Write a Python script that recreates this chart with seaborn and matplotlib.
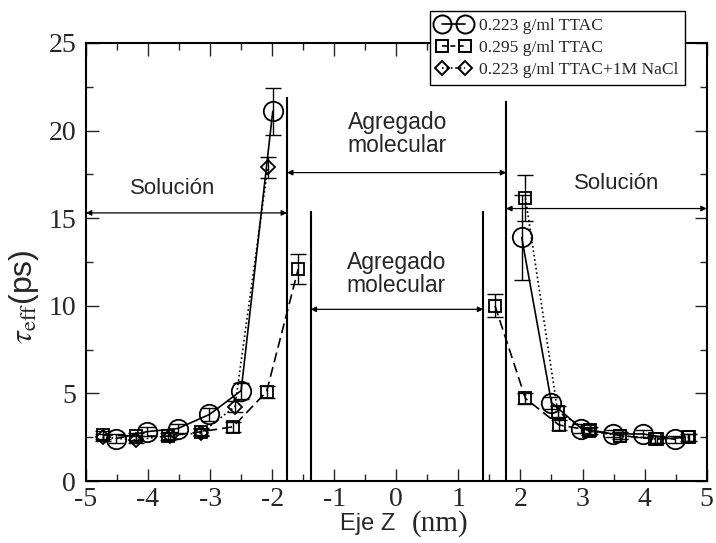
import matplotlib
matplotlib.use("Agg")
import matplotlib.pyplot as plt
import seaborn as sns
from matplotlib.lines import Line2D
from matplotlib.ticker import MultipleLocator

# 0.223 g/ml TTAC (circles, solid)
c_left_x = [-4.51, -4.02, -3.52, -3.01, -2.50, -1.99]
c_left_y = [2.43, 2.82, 3.00, 3.80, 5.16, 21.1]
c_left_err = [0.25, 0.25, 0.25, 0.35, 0.45, 1.35]
c_right_x = [2.02, 2.50, 2.98, 3.49, 3.98, 4.49]
c_right_y = [13.9, 4.47, 3.00, 2.69, 2.69, 2.38]
c_right_err = [2.45, 0.35, 0.25, 0.2, 0.2, 0.2]

# 0.295 g/ml TTAC (squares, dashed)
s_left_x = [-4.73, -4.19, -3.68, -3.14, -2.63, -2.09, -1.58]
s_left_y = [2.63, 2.57, 2.57, 2.82, 3.10, 5.10, 12.1]
s_left_err = [0.2, 0.2, 0.2, 0.2, 0.3, 0.35, 0.85]
s_right_x = [1.59, 2.08, 2.62, 3.12, 3.60, 4.17, 4.71]
s_right_y = [10.0, 4.72, 3.20, 2.90, 2.60, 2.40, 2.50]
s_right_err = [0.65, 0.3, 0.3, 0.2, 0.2, 0.2, 0.2]

# 0.223 g/ml TTAC + 1M NaCl (diamonds, dotted)
d_left_x = [-4.73, -4.19, -3.65, -3.14, -2.60, -2.07]
d_left_y = [2.50, 2.35, 2.60, 2.75, 4.25, 17.9]
d_left_err = [0.2, 0.2, 0.2, 0.2, 0.3, 0.6]
d_right_x = [2.08, 2.60, 3.10, 3.60, 4.20, 4.70]
d_right_y = [16.15, 3.96, 2.85, 2.60, 2.40, 2.50]
d_right_err = [1.3, 0.3, 0.2, 0.2, 0.2, 0.2]

labels = ["0.223 g/ml TTAC", "0.295 g/ml TTAC", "0.223 g/ml TTAC+1M NaCl"]

sns.set_style("ticks")
plt.rcParams["font.family"] = ["Liberation Serif", "DejaVu Serif"]
plt.rcParams["mathtext.fontset"] = "stix"
plt.rcParams["axes.unicode_minus"] = False

fig = plt.figure(figsize=(7.16, 5.43), dpi=100)
ax = fig.add_axes([0.120, 0.114, 0.867, 0.807])

def draw(x, y, err, marker, ms, ls):
    ax.errorbar(x, y, yerr=err, fmt="none", ecolor="k", elinewidth=1.0, capsize=6, capthick=1.0)
    sns.lineplot(x=x, y=y, ax=ax, sort=False, color="k", linewidth=1.2, linestyle=ls,
                 marker=marker, markersize=ms, markerfacecolor="none",
                 markeredgecolor="k", markeredgewidth=1.3)

draw(c_left_x, c_left_y, c_left_err, "o", 14, "-")
draw(c_right_x, c_right_y, c_right_err, "o", 14, "-")
draw(s_left_x, s_left_y, s_left_err, "s", 9, (0, (6, 3)))
draw(s_right_x, s_right_y, s_right_err, "s", 9, (0, (6, 3)))
draw(d_left_x, d_left_y, d_left_err, "D", 7, ":")
draw(d_right_x, d_right_y, d_right_err, "s", 9, ":")

# region boundaries
ax.vlines([-1.76, 1.77], 0, [21.9, 21.7], color="k", linewidth=1.5)
ax.vlines([-1.38, 1.40], 0, 15.4, color="k", linewidth=1.5)

arrow = dict(arrowstyle="<|-|>", color="k", lw=0.9, mutation_scale=8, shrinkA=0, shrinkB=0)
ax.annotate("", xy=(-5, 15.3), xytext=(-1.76, 15.3), arrowprops=arrow)
ax.annotate("", xy=(1.77, 15.55), xytext=(5, 15.55), arrowprops=arrow)
ax.annotate("", xy=(-1.76, 17.6), xytext=(1.77, 17.6), arrowprops=arrow)
ax.annotate("", xy=(-1.38, 9.8), xytext=(1.40, 9.8), arrowprops=arrow)

sans = ["Liberation Sans", "DejaVu Sans"]
ax.text(-3.6, 16.7, "Solución", ha="center", va="center", fontsize=16, family=sans)
ax.text(3.55, 16.95, "Solución", ha="center", va="center", fontsize=16, family=sans)
ax.text(0.02, 19.8, "Agregado\nmolecular", ha="center", va="center", fontsize=16.5,
        family=sans, linespacing=1.0)
ax.text(0.0, 11.8, "Agregado\nmolecular", ha="center", va="center", fontsize=16.5,
        family=sans, linespacing=1.0)

ax.set_xlim(-5, 5)
ax.set_ylim(0, 25)
ax.xaxis.set_major_locator(MultipleLocator(1))
ax.xaxis.set_minor_locator(MultipleLocator(0.5))
ax.yaxis.set_major_locator(MultipleLocator(5))
ax.yaxis.set_minor_locator(MultipleLocator(2.5))
ax.tick_params(which="both", direction="in", top=True, right=True, width=1.0)
ax.tick_params(which="major", length=9, labelsize=20)
ax.tick_params(axis="x", which="major", pad=4)
ax.tick_params(axis="y", which="major", pad=7)
ax.tick_params(which="minor", length=5)
for s in ax.spines.values():
    s.set_linewidth(1.5)
    s.set_color("k")

# axis labels: sans part + serif units
fig.text(0.552, 0.035, "Eje Z", ha="right", va="center", fontsize=17, family=sans)
fig.text(0.614, 0.035, "(nm)", ha="center", va="center", fontsize=21)
ax.set_ylabel(r"$\tau_{\mathrm{eff}}$(ps)", fontsize=23, family=sans)
ax.yaxis.set_label_coords(-0.072, 0.42)

handles = [
    Line2D([], [], color="k", lw=1.2, ls="-", marker="o", ms=13, mfc="none", mec="k", mew=1.4),
    Line2D([], [], color="k", lw=1.2, ls=(0, (3, 2)), marker="s", ms=8, mfc="none", mec="k", mew=1.4),
    Line2D([], [], color="k", lw=1.2, ls=":", marker="D", ms=7, mfc="none", mec="k", mew=1.4),
]
leg = fig.legend(handles, labels, loc="upper left", bbox_to_anchor=(0.600, 0.980),
                 numpoints=2, handlelength=1.9, fontsize=12.6, frameon=True, fancybox=False,
                 edgecolor="k", framealpha=1, borderpad=0.4, labelspacing=0.33,
                 handletextpad=0.5, borderaxespad=0)
leg.get_frame().set_linewidth(1.0)

fig.savefig("out.png", dpi=100)
